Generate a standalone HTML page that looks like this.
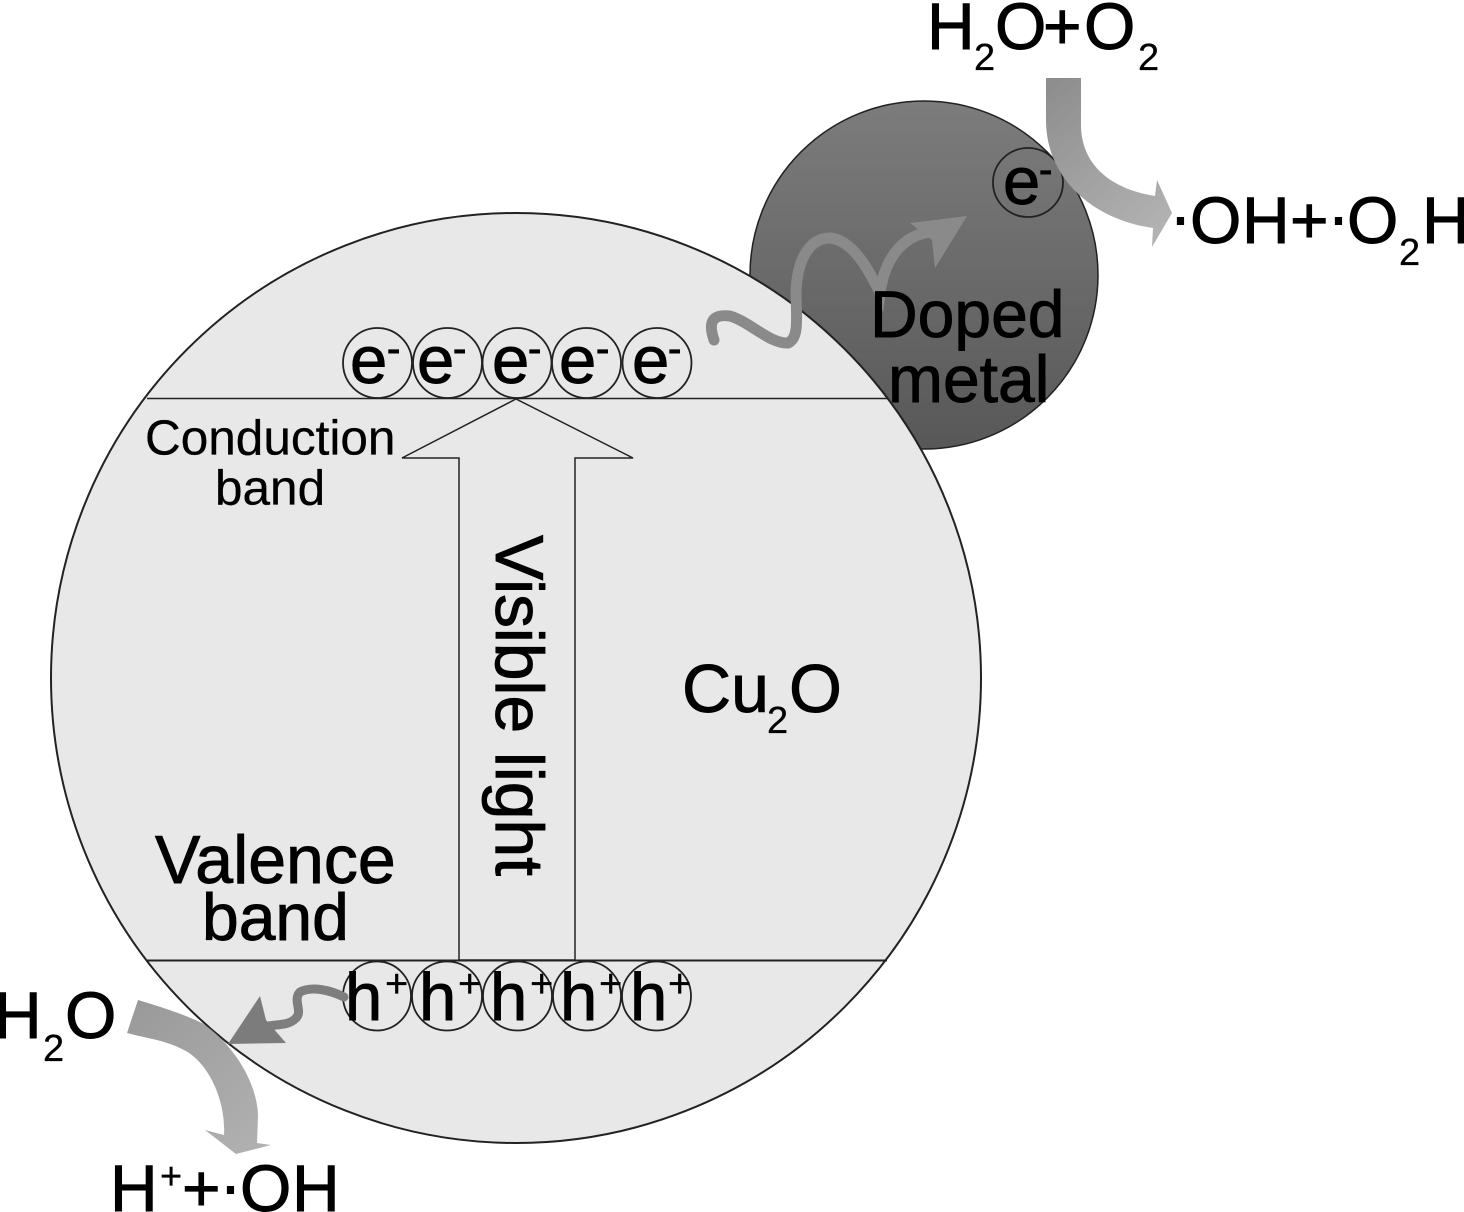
<!DOCTYPE html>
<html><head><meta charset="utf-8"><style>
html,body{margin:0;padding:0;background:#fff}
svg{display:block}
text{font-family:"Liberation Sans",sans-serif;fill:#000;stroke:#000;stroke-width:.9px}
text.s{stroke-width:.3px}
</style></head><body>
<svg width="1464" height="1212" viewBox="0 0 1464 1212" xmlns="http://www.w3.org/2000/svg">
<defs>
<linearGradient id="m" x1="0" y1="0" x2="0" y2="1"><stop offset="0" stop-color="#7c7c7c"/><stop offset="1" stop-color="#585858"/></linearGradient>
<linearGradient id="a1" gradientUnits="userSpaceOnUse" x1="1060" y1="78" x2="1172" y2="220"><stop offset="0" stop-color="#8e8e8e"/><stop offset="1" stop-color="#b2b2b2"/></linearGradient>
<linearGradient id="a2" gradientUnits="userSpaceOnUse" x1="130" y1="1010" x2="250" y2="1150"><stop offset="0" stop-color="#9a9a9a"/><stop offset="1" stop-color="#b0b0b0"/></linearGradient>
</defs>
<circle cx="924" cy="275" r="174" fill="url(#m)" stroke="#222" stroke-width="1.5"/>
<circle cx="516" cy="678" r="465" fill="#e8e8e8" stroke="#222" stroke-width="2"/>
<line x1="147" y1="398.500" x2="888" y2="398.500" stroke="#222" stroke-width="1.500"/>
<line x1="147" y1="960.500" x2="887" y2="960.500" stroke="#222" stroke-width="2"/>
<path d="M516 399L402 458H459V960H575V458H633Z" fill="#e8e8e8" stroke="#222" stroke-width="1.500"/>
<g fill="none" stroke="#222" stroke-width="1.800">
<ellipse cx="377.500" cy="363" rx="34.500" ry="35"/><ellipse cx="447.500" cy="363" rx="34.500" ry="35"/><ellipse cx="517" cy="363" rx="34.500" ry="35"/><ellipse cx="586.500" cy="363" rx="34.500" ry="35"/><ellipse cx="657" cy="363" rx="34.500" ry="35"/>
<ellipse cx="377" cy="996" rx="34" ry="34.500"/><ellipse cx="447" cy="996" rx="35" ry="34.500"/><ellipse cx="517.500" cy="996" rx="34.500" ry="34.500"/><ellipse cx="587" cy="996" rx="34" ry="34.500"/><ellipse cx="656.500" cy="996" rx="34.500" ry="34.500"/>
<ellipse cx="1028" cy="182.500" rx="35" ry="34.500"/>
</g>
<!-- wavy electron arrow -->
<path d="M714 340C708 322 712 314 730 316C750 322 770 344 788 343C800 338 796 315 796 290C798 255 812 238 830 238C852 240 868 268 880 293C884 262 900 236 930 232" fill="none" stroke="#8a8a8a" stroke-width="11" stroke-linecap="round"/>
<path d="M910 223L967 216L935 268L932 240Z" fill="#8a8a8a"/>
<!-- wavy hole arrow -->
<path d="M344 997C330 990 312 986 300 992C292 1000 304 1012 295 1019C288 1026 275 1024 262 1027" fill="none" stroke="#7e7e7e" stroke-width="9" stroke-linecap="round"/>
<path d="M260 996L266 1020L286 1043L228 1044Z" fill="#7c7c7c"/>
<!-- big arrows -->
<path d="M1046 78H1081V125C1081 160 1105 188 1155 196L1157 180L1172 213L1152 247L1153 228C1095 220 1046 180 1046 120Z" fill="url(#a1)"/>
<path d="M138 1000C165 1008 185 1015 202 1023C235 1045 258 1085 258 1117L257 1143L271 1145L236 1154L205 1130L224 1135C226 1100 208 1062 184 1050C165 1040 145 1038 127 1033Z" fill="url(#a2)"/>
<!-- e- row -->
<g font-size="67"><text x="350" y="383">e</text><text x="417" y="383">e</text><text x="492" y="383">e</text><text x="559" y="383">e</text><text x="632" y="383">e</text></g>
<g font-size="40"><text x="387" y="362">-</text><text x="453" y="362">-</text><text x="528" y="362">-</text><text x="596" y="362">-</text><text x="668" y="362">-</text></g>
<!-- h+ row -->
<g font-size="67"><text x="345" y="1020">h</text><text x="419" y="1020">h</text><text x="490" y="1020">h</text><text x="560" y="1020">h</text><text x="630" y="1020">h</text></g>
<g font-size="40"><text class="s" x="385" y="997">+</text><text class="s" x="458" y="997">+</text><text class="s" x="530" y="997">+</text><text class="s" x="599" y="997">+</text><text class="s" x="668" y="997">+</text></g>
<!-- single e- -->
<text x="1003" y="204" font-size="67">e</text><text x="1039" y="183" font-size="40">-</text>
<!-- labels -->
<text x="145" y="454.500" font-size="49.500" class="s">Conduction</text>
<text x="215" y="504.500" font-size="49.500" class="s">band</text>
<text x="155" y="883" font-size="68">Valence</text>
<text x="202" y="940" font-size="66">band</text>
<text transform="translate(496 535) rotate(90)" font-size="68" textLength="341">Visible light</text>
<text x="682" y="712" font-size="68">Cu</text><text class="s" x="767" y="733" font-size="38">2</text><text x="789" y="712" font-size="68">O</text>
<text x="870" y="337" font-size="66">Doped</text>
<text x="888" y="402" font-size="66">metal</text>
<!-- H2O+O2 -->
<text x="927" y="49" font-size="66">H</text><text class="s" x="974" y="70" font-size="38">2</text><text x="995" y="49" font-size="66">O</text><text x="1043" y="49" font-size="66">+</text><text x="1084" y="49" font-size="66">O</text><text class="s" x="1138" y="70" font-size="38">2</text>
<!-- OH+O2H -->
<text x="1169.500" y="239" font-size="66">·</text><text x="1190" y="243" font-size="66">O</text><text x="1242" y="243" font-size="66">H</text><text x="1290" y="243" font-size="66">+</text><text x="1327.500" y="239" font-size="66">·</text><text x="1347" y="243" font-size="66">O</text><text class="s" x="1399" y="265" font-size="38">2</text><text x="1422" y="243" font-size="66">H</text>
<!-- H2O left -->
<text x="-6" y="1038" font-size="66">H</text><text class="s" x="43" y="1061" font-size="38">2</text><text x="65" y="1038" font-size="66">O</text>
<!-- H+ + OH -->
<text x="110" y="1211" font-size="66">H</text><text class="s" x="160" y="1189" font-size="38">+</text><text x="182" y="1211" font-size="66">+</text><text x="219.500" y="1208" font-size="66">·</text><text x="240" y="1211" font-size="66">O</text><text x="292" y="1211" font-size="66">H</text>
</svg>
</body></html>
